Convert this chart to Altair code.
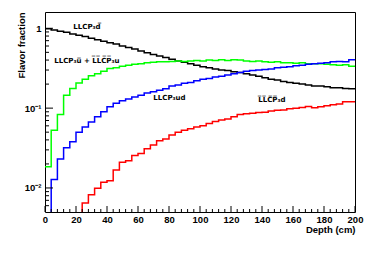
import altair as alt
import pandas as pd

# ---- data ----
depth_start = list(range(0, 200, 4))  # 4 cm bins, 0..196
depth_end = 200

black = [0.99, 0.95, 0.92, 0.89, 0.85, 0.82, 0.79, 0.75, 0.72, 0.69,
         0.66, 0.635, 0.60, 0.575, 0.55, 0.52, 0.495, 0.47, 0.45, 0.43,
         0.41, 0.39, 0.375, 0.36, 0.345, 0.33, 0.32, 0.31, 0.30, 0.295,
         0.285, 0.28, 0.27, 0.26, 0.25, 0.24, 0.23, 0.225, 0.215, 0.21,
         0.205, 0.20, 0.195, 0.19, 0.19, 0.185, 0.18, 0.18, 0.176, 0.175]

green = [0.0185, 0.053, 0.083, 0.145, 0.176, 0.207, 0.23, 0.255, 0.27, 0.29,
         0.313, 0.32, 0.335, 0.345, 0.355, 0.36, 0.37, 0.375, 0.38, 0.38,
         0.385, 0.39, 0.385, 0.39, 0.395, 0.39, 0.40, 0.395, 0.405, 0.395,
         0.405, 0.40, 0.39, 0.385, 0.39, 0.38, 0.375, 0.38, 0.37, 0.37,
         0.365, 0.37, 0.36, 0.36, 0.36, 0.355, 0.35, 0.345, 0.35, 0.335]

blue = [0, 0.0128, 0.023, 0.032, 0.038, 0.050, 0.058, 0.067, 0.078, 0.09,
        0.104, 0.115, 0.124, 0.13, 0.138, 0.145, 0.155, 0.16, 0.168, 0.175,
        0.19, 0.195, 0.205, 0.21, 0.22, 0.23, 0.235, 0.245, 0.25, 0.26,
        0.27, 0.28, 0.29, 0.295, 0.30, 0.305, 0.31, 0.32, 0.325, 0.33,
        0.34, 0.345, 0.355, 0.36, 0.365, 0.37, 0.38, 0.385, 0.38, 0.405]

red = [0, 0, 0, 0, 0, 0, 0.0065, 0.0082, 0.0099, 0.0118,
       0.0123, 0.0168, 0.021, 0.022, 0.0255, 0.027, 0.031, 0.0345, 0.039, 0.041,
       0.046, 0.050, 0.053, 0.055, 0.058, 0.060, 0.064, 0.068, 0.071, 0.073,
       0.078, 0.083, 0.085, 0.086, 0.088, 0.089, 0.092, 0.094, 0.095, 0.098,
       0.10, 0.102, 0.105, 0.101, 0.104, 0.107, 0.11, 0.113, 0.12, 0.12]

series_names = ["black", "green", "blue", "red"]
series_colors = ["#000000", "#00ff00", "#0000ff", "#ff0000"]
series_values = [black, green, blue, red]

x_major = [0, 20, 40, 60, 80, 100, 120, 140, 160, 180, 200]
x_minor = [d for d in range(0, 201, 4) if d % 20 != 0]
y_major = [0.01, 0.1, 1]
y_minor = [0.006, 0.007, 0.008, 0.009,
           0.02, 0.03, 0.04, 0.05, 0.06, 0.07, 0.08, 0.09,
           0.2, 0.3, 0.4, 0.5, 0.6, 0.7, 0.8, 0.9]

OL = "\u0305"
label_text = ["LLCP\u2083d" + OL,
              "LLCP\u2083u" + OL + " + " + "".join(c + OL for c in "LLCP") + "\u2083u",
              "LLCP\u2083ud",
              "".join(c + OL for c in "LLCP") + "\u2083d"]
label_x = [18.3, 6.0, 69.9, 137.6]
label_y = [1.04, 0.393, 0.135, 0.126]

FLOOR = 1e-4  # empty bins drawn at the bottom of the log axis

# ---- tables ----
rows = []
for k, (name, vals) in enumerate(zip(series_names, series_values)):
    for d, v in zip(depth_start, vals):
        rows.append({"series": name, "order": k, "depth": d, "value": max(v, FLOOR)})
    rows.append({"series": name, "order": k, "depth": depth_end, "value": max(vals[-1], FLOOR)})
df = pd.DataFrame(rows)

FONT = "Liberation Sans"
xscale = alt.Scale(domain=[0, 200], nice=False, zero=False)
yscale = alt.Scale(type="log", domain=[0.005, 1.6], nice=False)

xaxis = alt.Axis(values=x_major, ticks=False, domain=False, grid=False,
                 labelFont=FONT, labelFontWeight="bold", labelFontSize=9.5,
                 labelColor="black", labelPadding=2, labelFlush=False,
                 title="Depth (cm)", titleFont=FONT, titleFontWeight="bold",
                 titleFontSize=9.5, titleColor="black",
                 titleX=310, titleY=17, titleAlign="right", titleBaseline="middle",
                 titleAnchor="end")
yaxis = alt.Axis(values=y_major, ticks=False, domain=False, grid=False,
                 labelExpr="datum.value >= 1 ? '1' : (datum.value >= 0.1 ? '10\u207b\u00b9' : '10\u207b\u00b2')",
                 labelFont=FONT, labelFontWeight="bold", labelFontSize=9.5,
                 labelColor="black", labelPadding=4,
                 title="Flavor fraction", titleFont=FONT, titleFontWeight="bold",
                 titleFontSize=9.5, titleColor="black",
                 titleX=-24, titleY=0, titleAngle=270, titleAlign="right",
                 titleBaseline="middle", titleAnchor="end")

lines = alt.Chart(df).mark_line(interpolate="step-after", strokeWidth=1.5, clip=True).encode(
    x=alt.X("depth:Q", scale=xscale, axis=xaxis),
    y=alt.Y("value:Q", scale=yscale, axis=yaxis),
    color=alt.Color("series:N", scale=alt.Scale(domain=series_names, range=series_colors), legend=None),
    order=alt.Order("order:Q"),
    detail="series:N",
)

xmaj = alt.Chart(pd.DataFrame({"depth": x_major})).mark_rule(color="black", strokeWidth=1).encode(
    x=alt.X("depth:Q", scale=xscale, axis=xaxis), y=alt.value(200), y2=alt.value(194))
xmin = alt.Chart(pd.DataFrame({"depth": x_minor})).mark_rule(color="black", strokeWidth=1).encode(
    x=alt.X("depth:Q", scale=xscale, axis=xaxis), y=alt.value(200), y2=alt.value(197))
ymaj = alt.Chart(pd.DataFrame({"value": y_major})).mark_rule(color="black", strokeWidth=1).encode(
    y=alt.Y("value:Q", scale=yscale, axis=yaxis), x=alt.value(0), x2=alt.value(8))
ymin = alt.Chart(pd.DataFrame({"value": y_minor})).mark_rule(color="black", strokeWidth=1).encode(
    y=alt.Y("value:Q", scale=yscale, axis=yaxis), x=alt.value(0), x2=alt.value(4))

labels = alt.Chart(pd.DataFrame({"depth": label_x, "value": label_y, "text": label_text})).mark_text(
    align="left", baseline="middle", font="DejaVu Sans", fontWeight="bold", fontSize=7, color="black"
).encode(x=alt.X("depth:Q", scale=xscale, axis=xaxis),
         y=alt.Y("value:Q", scale=yscale, axis=yaxis),
         text="text:N")

chart = alt.layer(lines, xmaj, xmin, ymaj, ymin, labels).properties(
    width=310, height=200,
    autosize=alt.AutoSizeParams(type="none"),
    padding={"left": 37, "top": 4, "right": 10, "bottom": 30},
    background="white",
).configure_view(stroke="black", strokeWidth=1)

chart.save("out.html", embed_options={"renderer": "svg", "actions": False})
